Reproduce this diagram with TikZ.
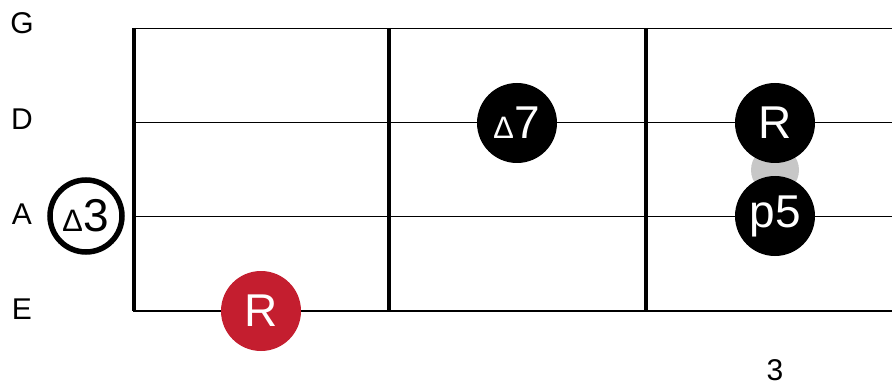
\documentclass[tikz,border=0pt]{standalone}
\usepackage{fontspec}
\setmainfont{Liberation Sans}
\usetikzlibrary{positioning,calc}
\definecolor{rootred}{RGB}{196,30,47}
\newcommand{\tri}{{\fontsize{31}{31}\selectfont ∆}}

\begin{document}
\begin{tikzpicture}[x=1pt, y=-1pt,
    % --- Text styles ---
    strname/.style={font=\fontsize{30}{30}\selectfont, inner sep=0pt},
    % --- Note styles ---
    note/.style={circle, fill=black, minimum size=80pt, inner sep=0pt,
                 text=white, font=\fontsize{46}{46}\selectfont},
    rootnote/.style={note, fill=rootred},
    opennote/.style={circle, draw=black, line width=5.5pt, fill=white,
                     minimum size=72pt, inner sep=0pt,
                     font=\fontsize{46}{46}\selectfont},
    ghost/.style={circle, fill=black!22, minimum size=48pt, inner sep=0pt},
    % --- Line styles ---
    strline/.style={line width=1pt},
    fretline/.style={line width=3.4pt},
]
\useasboundingbox (0,0) rectangle (892,385);

% === Strings ===
\node[strname] (G) at (22,23)  {G};
\node[strname] (D) at (22,119) {D};
\node[strname] (A) at (22,214) {A};
\node[strname] (E) at (22,309) {E};
\coordinate (gl) at (133,29);  \coordinate (gr) at (892,29);
\coordinate (dl) at (133,123); \coordinate (dr) at (892,123);
\coordinate (al) at (133,216); \coordinate (ar) at (892,216);
\coordinate (el) at (133,311); \coordinate (er) at (892,311);
\draw[strline] (gl) -- (gr);
\draw[strline] (dl) -- (dr);
\draw[strline] (al) -- (ar);
\draw[strline, line width=2pt] (el) -- (er);

% === Frets ===
\foreach \fx/\nm in {134/nut, 389/f1, 646/f2} {
  \coordinate (\nm top) at (\fx,28);
  \coordinate (\nm bot) at (\fx,311);
  \draw[fretline] (\nm top) -- (\nm bot);
}

% === Notes ===
\node[ghost] (pass) at (775,170) {};
\node[opennote] (third)   at (86,216)  {\tri\kern1pt 3};
\node[note]     (seventh) at (517,123) {\tri\kern1pt 7};
\node[note]     (rootD)   at (775,123) {R};
\node[note]     (fifth)   at (775,216) {p5};
\node[rootnote] (rootE)   at (261,311) {R};

% === Fret number ===
\node[strname] (fnum) at (775,370) {3};
\end{tikzpicture}
\end{document}
